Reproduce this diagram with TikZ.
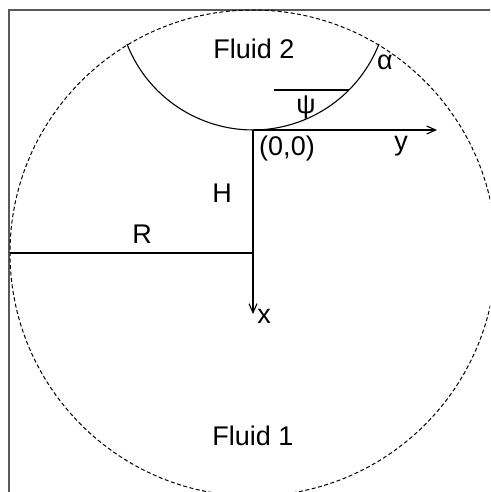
\documentclass[tikz,border=0pt]{standalone}
\usepackage{fontspec}
\setmainfont{Liberation Sans}
\usetikzlibrary{arrows.meta}
\begin{document}
\begin{tikzpicture}[x=1pt,y=-1pt,line width=1.1pt,
  lbl/.style={inner sep=0pt,font=\fontsize{27}{30}\selectfont},
  axis/.style={-{Straight Barb[length=9pt,width=8pt,line width=1.1pt]}},
  frame/.style={draw=black!65,line width=1.6pt},
  rim/.style={line width=1pt,dash pattern=on 4pt off 2.5pt}]
\useasboundingbox (0,0) rectangle (490,492);
\clip (0,0) rectangle (490,492);
\fill[white] (0,0) rectangle (490,492);
% frame
\draw[frame] (9,495) -- (9,10) -- (495,10);
% big dashed circle
\coordinate (C) at (253,253);
\draw[rim] (C) circle[radius=243];
% meniscus arc
\coordinate (A1) at (127,44);
\draw (A1) arc[start angle=158.6,end angle=21.4,radius=135.3];
% psi reference line
\coordinate (P1) at (274,90);
\coordinate (P2) at (349,90);
\draw (P1) -- (P2);
% axes
\coordinate (O) at (253,130);
\coordinate (Y) at (437,130);
\coordinate (X) at (253,314);
\coordinate (L) at (10,253);
\draw[axis] (O) -- (Y);
\draw[axis] (O) -- (X);
\draw (L) -- (C);
% labels
\node[lbl,anchor=base] (f2) at (254,59) {Fluid 2};
\node[lbl,anchor=base] (f1) at (253,445) {Fluid 1};
\node[lbl] (al) at (385,62) {α};
\node[lbl] (ps) at (306,107) {ψ};
\node[lbl,anchor=base] (org) at (287,155) {(0,0)};
\node[lbl,anchor=base] (ly) at (401,150) {y};
\node[lbl,anchor=base] (lh) at (222,202) {H};
\node[lbl,anchor=base] (lr) at (142,243) {R};
\node[lbl,anchor=base] (lx) at (264,323) {x};
\end{tikzpicture}
\end{document}
